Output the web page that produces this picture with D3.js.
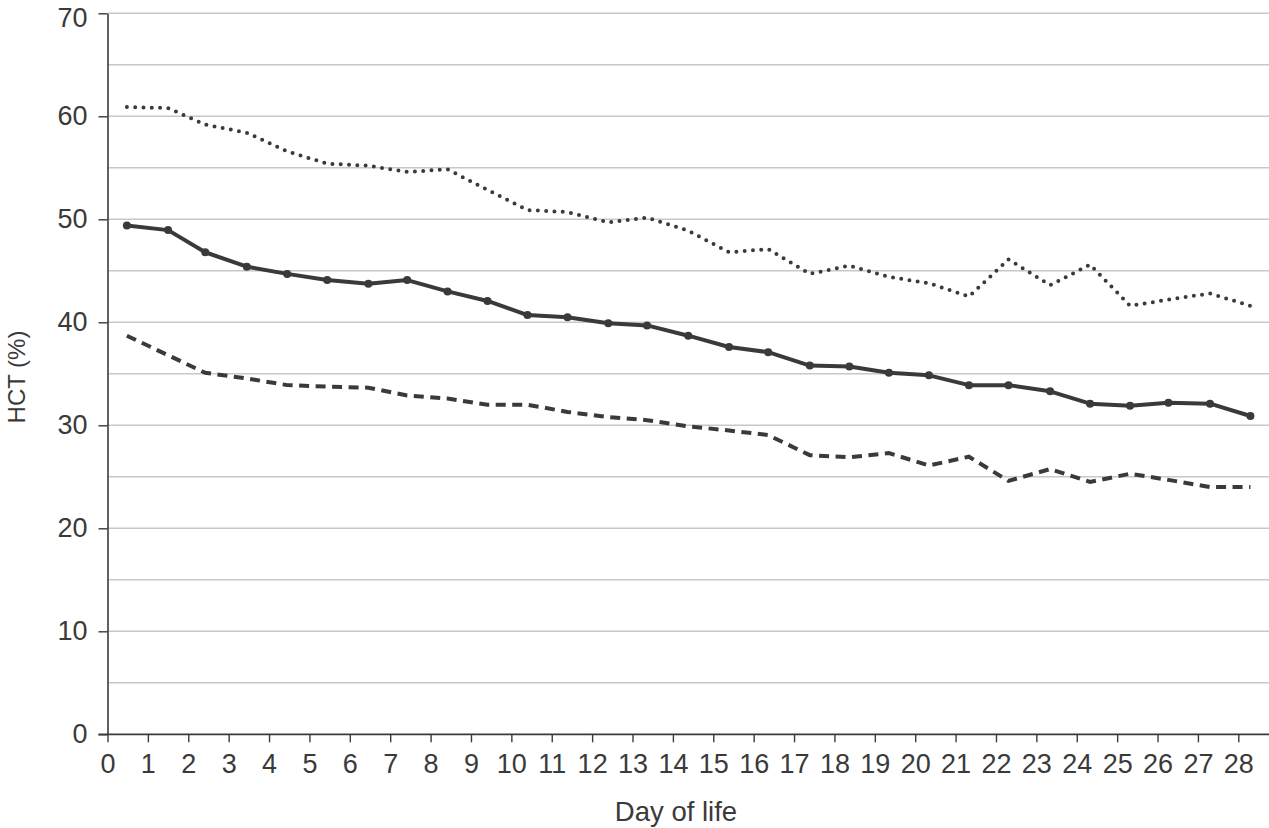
<!DOCTYPE html>
<html>
<head>
<meta charset="utf-8">
<script src="https://cdn.jsdelivr.net/npm/d3@7"></script>
<style>
  body { margin: 0; background: #fff; }
  svg text { font-family: "Liberation Sans", Arial, sans-serif; fill: #3a3a3a; }
</style>
</head>
<body>
<div id="chart"></div>
<script>
// day position of each point
const days = [0.48, 1.5, 2.42, 3.45, 4.45, 5.44, 6.46, 7.42, 8.42, 9.41, 10.4, 11.39, 12.4, 13.36,
  14.38, 15.39, 16.36, 17.39, 18.37, 19.35, 20.34, 21.33, 22.31, 23.34, 24.33, 25.32, 26.27, 27.3, 28.3];

const upper = [60.9, 60.8, 59.2, 58.4, 56.6, 55.4, 55.2, 54.6, 54.85, 52.85, 50.9, 50.7, 49.7, 50.15,
  48.9, 46.8, 47.1, 44.7, 45.5, 44.4, 43.8, 42.5, 46.1, 43.6, 45.6, 41.6, 42.2, 42.8, 41.6];

const mean = [49.4, 48.95, 46.8, 45.4, 44.7, 44.1, 43.75, 44.1, 43.0, 42.07, 40.7, 40.5, 39.9, 39.7,
  38.7, 37.6, 37.1, 35.8, 35.7, 35.1, 34.85, 33.9, 33.9, 33.3, 32.1, 31.9, 32.2, 32.1, 30.9];

const lower = [38.7, 36.8, 35.1, 34.55, 33.9, 33.75, 33.65, 32.9, 32.6, 32.0, 32.0, 31.3, 30.8, 30.5,
  29.9, 29.5, 29.05, 27.1, 26.9, 27.3, 26.1, 26.95, 24.6, 25.75, 24.5, 25.3, 24.7, 24.0, 24.0];

const xTicks = d3.range(0, 29);
const yTicks = [0, 10, 20, 30, 40, 50, 60, 70];
const yGrid = d3.range(5, 75, 5);

const width = 1269, height = 828;
const plotLeft = 107.5, plotTop = 13.3, plotBottom = 734.3;

const svg = d3.select('#chart').append('svg')
  .attr('width', width).attr('height', height);

const x = d3.scaleLinear().domain([0, 28]).range([plotLeft, 1238.3]);
const y = d3.scaleLinear().domain([0, 70]).range([plotBottom, plotTop]);

// gridlines
svg.append('g').selectAll('line').data(yGrid).enter().append('line')
  .attr('x1', plotLeft).attr('x2', width)
  .attr('y1', d => y(d)).attr('y2', d => y(d))
  .attr('stroke', '#c8c8c8').attr('stroke-width', 1.4);

// axes
const yAxis = svg.append('g').attr('transform', `translate(${plotLeft},0)`)
  .call(d3.axisLeft(y).tickValues(yTicks).tickSize(9).tickSizeOuter(0).tickPadding(11));
yAxis.select('.domain').attr('stroke', '#3a3a3a').attr('stroke-width', 1.6);
yAxis.selectAll('.tick line').attr('stroke', '#3a3a3a').attr('stroke-width', 1.4);
yAxis.selectAll('text').style('font-size', '27px');
// top label sits a little lower so it stays inside the picture
yAxis.selectAll('text').filter(d => d === 70).attr('dy', '0.47em');

const xAxis = svg.append('g').attr('transform', `translate(0,${plotBottom})`)
  .call(d3.axisBottom(x).tickValues(xTicks).tickSize(8).tickSizeOuter(0).tickPadding(12));
xAxis.select('.domain').attr('d', `M${plotLeft - 9},0H${width}`)
  .attr('stroke', '#3a3a3a').attr('stroke-width', 1.8);
xAxis.selectAll('.tick line').attr('stroke', '#3a3a3a').attr('stroke-width', 1.4);
xAxis.selectAll('text').style('font-size', '27px');

// lines
const line = vals => d3.line().x((d, i) => x(days[i])).y(d => y(d))(vals);

svg.append('path').attr('d', line(upper))
  .attr('fill', 'none').attr('stroke', '#3a3a3a').attr('stroke-width', 4)
  .attr('stroke-linecap', 'round').attr('stroke-dasharray', '0 8.3');

svg.append('path').attr('d', line(lower))
  .attr('fill', 'none').attr('stroke', '#3a3a3a').attr('stroke-width', 4)
  .attr('stroke-dasharray', '10 6.5');

svg.append('path').attr('d', line(mean))
  .attr('fill', 'none').attr('stroke', '#3a3a3a').attr('stroke-width', 4)
  .attr('stroke-linejoin', 'round');

svg.append('g').selectAll('circle').data(mean).enter().append('circle')
  .attr('cx', (d, i) => x(days[i])).attr('cy', d => y(d)).attr('r', 4)
  .attr('fill', '#3a3a3a');

// axis titles
svg.append('text').attr('transform', 'translate(25,377) rotate(-90)')
  .attr('text-anchor', 'middle').style('font-size', '24px').text('HCT (%)');

svg.append('text').attr('x', 676).attr('y', 821)
  .attr('text-anchor', 'middle').style('font-size', '27.5px').text('Day of life');
</script>
</body>
</html>
